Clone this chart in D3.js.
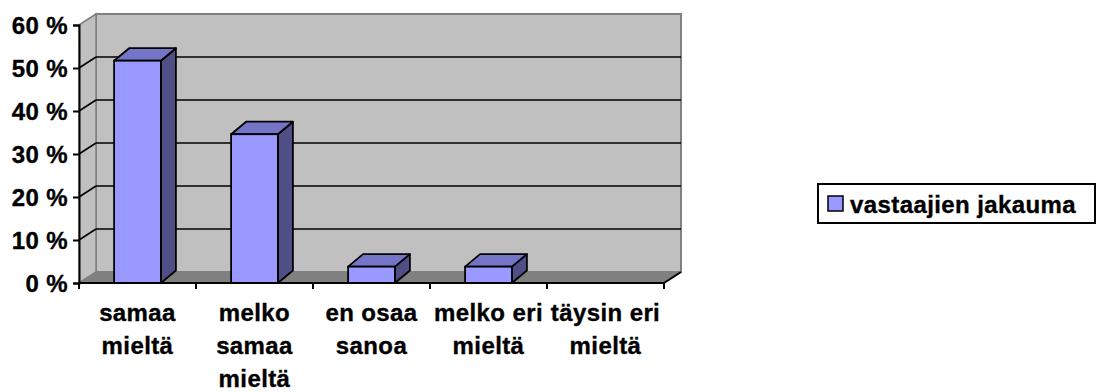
<!DOCTYPE html>
<html>
<head>
<meta charset="utf-8">
<script src="https://cdn.jsdelivr.net/npm/d3@7"></script>
<style>
  html, body { margin: 0; padding: 0; background: #fff; }
  svg { display: block; }
  text { font-family: "Liberation Sans", Arial, sans-serif; font-weight: bold; fill: #000; }
</style>
</head>
<body>
<svg id="chart" width="1098" height="392"></svg>
<script>
// ---- data ----
const categories = ["samaa mieltä", "melko samaa mieltä", "en osaa sanoa", "melko eri mieltä", "täysin eri mieltä"];
const categoryLines = [["samaa", "mieltä"], ["melko", "samaa", "mieltä"], ["en osaa", "sanoa"], ["melko eri", "mieltä"], ["täysin eri", "mieltä"]];
const values = [51.7, 34.6, 3.8, 3.8, 0];
const yTicks = [0, 10, 20, 30, 40, 50, 60];
const yTickLabels = ["0 %", "10 %", "20 %", "30 %", "40 %", "50 %", "60 %"];
const seriesName = "vastaajien jakauma";

(function () {
// ---- layout ----
const svg = d3.select("#chart");
const pLeft = 79, pRight = 664, pBottom = 283, pTop = 25;
const wallDx = 17, wallDy = -11;
const barDx = 15, barDy = -12.5;
const fontSize = 24;
const ls = "0.4px";
const strokeW = 0.35;

const y = d3.scaleLinear().domain([0, 60]).range([pBottom, pTop]);
const x = d3.scaleBand().domain(categories).range([pLeft, pRight]).paddingInner(0.6).paddingOuter(0.3);
const step = x.step();

const g = svg.append("g");

// back wall
g.append("path")
  .attr("d", `M${pLeft + wallDx},${y(60) + wallDy} L${pRight + wallDx},${y(60) + wallDy} L${pRight + wallDx},${y(0) + wallDy} L${pLeft + wallDx},${y(0) + wallDy} Z`)
  .attr("fill", "#c0c0c0").attr("stroke", "#808080").attr("stroke-width", 2);
// left wall
g.append("path")
  .attr("d", `M${pLeft},${y(60)} L${pLeft + wallDx},${y(60) + wallDy} L${pLeft + wallDx},${y(0) + wallDy} L${pLeft},${y(0)} Z`)
  .attr("fill", "#c0c0c0").attr("stroke", "#808080").attr("stroke-width", 1.5);
// floor
g.append("path")
  .attr("d", `M${pLeft},${y(0)} L${pRight},${y(0)} L${pRight + wallDx},${y(0) + wallDy} L${pLeft + wallDx},${y(0) + wallDy} Z`)
  .attr("fill", "#808080").attr("stroke", "#808080").attr("stroke-width", 1);

// gridlines
const gridVals = yTicks.filter(v => v > 0 && v < 60);
g.selectAll(".gridBack").data(gridVals).join("line")
  .attr("x1", pLeft + wallDx).attr("x2", pRight + wallDx)
  .attr("y1", d => y(d) + wallDy).attr("y2", d => y(d) + wallDy)
  .attr("stroke", "#000").attr("stroke-width", 1.6);
g.selectAll(".gridSide").data(gridVals).join("line")
  .attr("x1", pLeft).attr("x2", pLeft + wallDx)
  .attr("y1", d => y(d)).attr("y2", d => y(d) + wallDy)
  .attr("stroke", "#000").attr("stroke-width", 1.6);

// bars
const barData = categories.map((c, i) => ({ c, v: values[i] })).filter(d => d.v > 0);
const bars = g.selectAll(".bar").data(barData).join("g");
bars.append("path") // side
  .attr("d", d => {
    const x1 = x(d.c) + x.bandwidth(), yt = y(d.v), yb = y(0);
    return `M${x1},${yt} L${x1 + barDx},${yt + barDy} L${x1 + barDx},${yb + barDy} L${x1},${yb} Z`;
  })
  .attr("fill", "#4f4f85").attr("stroke", "#000").attr("stroke-width", 1.8).attr("stroke-linejoin", "round");
bars.append("path") // top
  .attr("d", d => {
    const x0 = x(d.c), x1 = x0 + x.bandwidth(), yt = y(d.v);
    return `M${x0},${yt} L${x0 + barDx},${yt + barDy} L${x1 + barDx},${yt + barDy} L${x1},${yt} Z`;
  })
  .attr("fill", "#7575c8").attr("stroke", "#000").attr("stroke-width", 1.8).attr("stroke-linejoin", "round");
bars.append("rect") // front
  .attr("x", d => x(d.c)).attr("y", d => y(d.v))
  .attr("width", x.bandwidth()).attr("height", d => y(0) - y(d.v))
  .attr("fill", "#9999ff").attr("stroke", "#000").attr("stroke-width", 1.8);

// floor right edge
g.append("line")
  .attr("x1", pRight).attr("y1", y(0)).attr("x2", pRight + wallDx).attr("y2", y(0) + wallDy)
  .attr("stroke", "#000").attr("stroke-width", 2);

// y axis
const yAxis = d3.axisLeft(y).tickValues(yTicks).tickSize(6).tickPadding(5)
  .tickFormat((d, i) => yTickLabels[i]);
const ya = g.append("g").attr("transform", `translate(${pLeft},0)`).call(yAxis);
ya.select(".domain").attr("stroke", "#000").attr("stroke-width", 2);
ya.selectAll(".tick line").attr("stroke", "#000").attr("stroke-width", 2);
ya.selectAll(".tick text")
  .style("font-family", '"Liberation Sans", Arial, sans-serif')
  .style("font-weight", "bold").style("font-size", fontSize + "px")
  .style("letter-spacing", ls)
  .attr("fill", "#000").attr("stroke", "#000").attr("stroke-width", strokeW).attr("dy", "0.36em");

// x axis line + ticks
const boundaries = d3.range(categories.length + 1).map(i => pLeft + i * step);
g.append("line").attr("x1", pLeft).attr("x2", pRight).attr("y1", pBottom).attr("y2", pBottom)
  .attr("stroke", "#000").attr("stroke-width", 2);
g.selectAll(".xtick").data(boundaries).join("line")
  .attr("x1", d => d).attr("x2", d => d).attr("y1", pBottom).attr("y2", pBottom + 6)
  .attr("stroke", "#000").attr("stroke-width", 2);

// category labels
const lab = g.selectAll(".xlab").data(categories).join("text")
  .attr("text-anchor", "middle")
  .attr("stroke", "#000").attr("stroke-width", strokeW)
  .style("font-size", fontSize + "px").style("letter-spacing", ls);
lab.each(function (c, i) {
  const t = d3.select(this);
  categoryLines[i].forEach((line, j) => {
    t.append("tspan").attr("x", x(c) + x.bandwidth() / 2).attr("y", 321 + j * 33).text(line);
  });
});

// legend
const lg = svg.append("g");
lg.append("rect").attr("x", 818).attr("y", 184).attr("width", 277).attr("height", 39)
  .attr("fill", "#fff").attr("stroke", "#000").attr("stroke-width", 2);
lg.append("rect").attr("x", 828).attr("y", 196).attr("width", 15).attr("height", 15)
  .attr("fill", "#9999ff").attr("stroke", "#000").attr("stroke-width", 1.5);
lg.append("text").attr("x", 850).attr("y", 213)
  .attr("stroke", "#000").attr("stroke-width", strokeW)
  .style("font-size", fontSize + "px").style("letter-spacing", ls).text(seriesName);
})();
</script>
</body>
</html>
